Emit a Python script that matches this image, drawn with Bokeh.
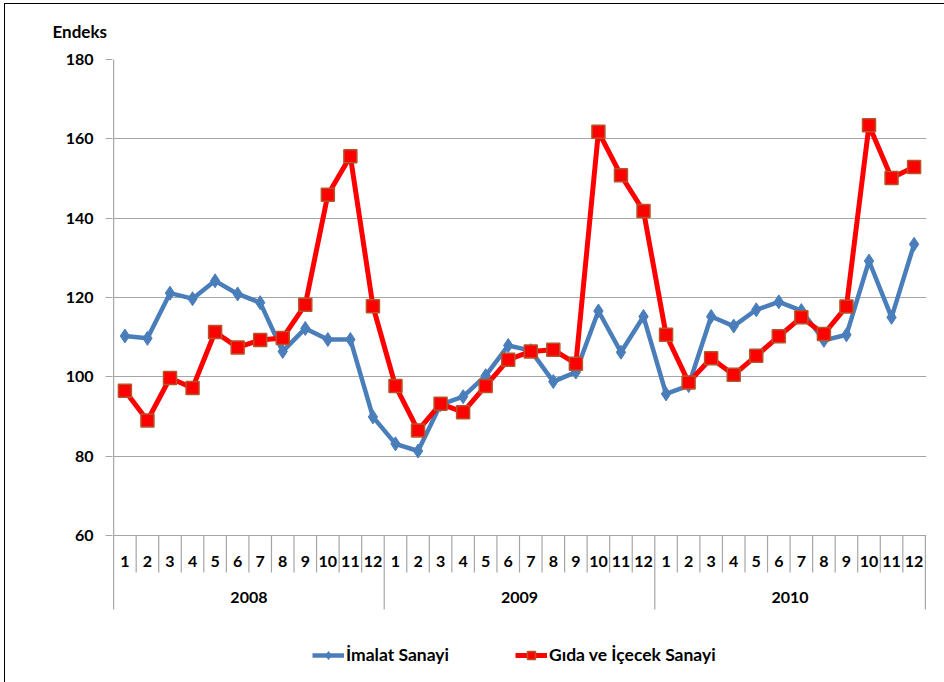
import numpy as np
from bokeh.plotting import figure
from bokeh.models import (Range1d, FixedTicker, Legend, LegendItem, InlineStyleSheet)
from bokeh.embed import file_html
from bokeh.resources import INLINE
from bokeh.core.properties import value

years = ["2008", "2009", "2010"]
months = [str(m) for m in range(1, 13)]
imalat = [110.3, 109.7, 121.1, 119.7, 124.2, 120.9, 118.7, 106.4, 112.2, 109.4, 109.4, 89.9,
          83.1, 81.3, 93.0, 95.0, 100.3, 107.9, 106.6, 98.8, 101.2, 116.6, 106.2, 115.2,
          95.7, 97.8, 115.2, 112.8, 116.9, 118.9, 116.7, 109.2, 110.6, 129.2, 115.0, 133.4]
gida = [96.5, 89.0, 99.7, 97.2, 111.3, 107.4, 109.3, 109.8, 118.2, 145.9, 155.6, 117.8,
        97.7, 86.5, 93.2, 91.1, 97.7, 104.3, 106.4, 106.8, 103.3, 161.8, 150.8, 141.8,
        110.6, 98.6, 104.7, 100.5, 105.3, 110.2, 115.0, 110.8, 117.7, 163.4, 150.1, 152.9]
y_ticks = [60, 80, 100, 120, 140, 160, 180]
series_names = ["İmalat Sanayi", "Gıda ve İçecek Sanayi"]
y_title = "Endeks"

FONT = value("Lato")
FS = "16px"
W, H = 944, 682
top, bottom_b = 59, 4
ppu = 476 / 120.0
ystart = 180 - (H - top - bottom_b) / ppu

n = len(imalat)
x = np.arange(n) + 0.5

frame_css = InlineStyleSheet(css="""
:host { position: relative; }
:host::after { content: ''; position: absolute; left: 4px; top: 3px; width: 940px; height: 679px;
  border-left: 1.5px solid #000; border-top: 1.5px solid #000; pointer-events: none; box-sizing: border-box; }
""")

p = figure(width=W, height=H, output_backend="svg", toolbar_location=None,
           x_range=Range1d(-0.05, n + 0.05), y_range=Range1d(ystart, 180),
           x_axis_location=None, min_border_left=112, min_border_right=18,
           min_border_top=top, min_border_bottom=bottom_b,
           stylesheets=[frame_css])
p.outline_line_color = None
p.xgrid.visible = False
p.ygrid.ticker = FixedTicker(ticks=y_ticks)
p.ygrid.grid_line_color = "#a6a6a6"
p.ygrid.grid_line_width = 1.2

p.title.text = y_title
p.title.align = "left"
p.title.offset = -60
p.title.standoff = 36
p.title.text_font = "Lato"
p.title.text_font_style = "bold"
p.title.text_font_size = "17px"
p.title.text_color = "black"

yax = p.yaxis[0]
yax.ticker = FixedTicker(ticks=y_ticks)
yax.axis_line_color = None
yax.major_tick_line_color = "#a6a6a6"
yax.major_tick_out = 7
yax.major_tick_in = 0
yax.minor_tick_line_color = None
yax.major_label_text_font = "Lato"
yax.major_label_text_font_style = "bold"
yax.major_label_text_font_size = FS
yax.major_label_text_color = "black"
yax.major_label_standoff = 12

# category axis lines
sep_color = "#a6a6a6"
month_bottom = 60 - 37 / ppu
year_bottom = 60 - 74 / ppu
xs0, ys0, xs1, ys1 = [0], [year_bottom], [0], [180]
for i in range(1, n + 1):
    xs0.append(i); xs1.append(i); ys1.append(60)
    ys0.append(year_bottom if i % 12 == 0 else month_bottom)
p.segment(x0=xs0, y0=ys0, x1=xs1, y1=ys1, line_color=sep_color, line_width=1.2)

month_labels = [months[i % 12] for i in range(n)]
p.text(x=list(x), y=[60 - 25.7 / ppu] * n, text=month_labels, text_font=FONT,
       text_font_style="bold", text_font_size=FS, text_align="center",
       text_baseline="middle", text_color="black")
p.text(x=[6, 18, 30], y=[60 - 62 / ppu] * 3, text=years, text_font=FONT,
       text_font_style="bold", text_font_size=FS, text_align="center",
       text_baseline="middle", text_color="black")

blue = "#4a7ebb"
red = "#ff0000"
l1 = p.line(x, imalat, line_color=blue, line_width=4.5)
s1 = p.scatter(x, imalat, marker="diamond", size=14, fill_color=blue, line_color=blue)
l2 = p.line(x, gida, line_color=red, line_width=5)
s2 = p.scatter(x, gida, marker="square", size=13, fill_color=red, line_color="#b5552a", line_width=1.5)

legend = Legend(items=[LegendItem(label=series_names[0], renderers=[l1, s1]),
                       LegendItem(label=series_names[1], renderers=[l2, s2])],
                orientation="horizontal", location=(200, 13),
                glyph_width=32, glyph_height=20, label_standoff=2, spacing=66,
                padding=0, margin=0, border_line_color=None, background_fill_alpha=0,
                label_text_font="Lato", label_text_font_style="bold",
                label_text_font_size="17.5px", label_text_color="black")
p.add_layout(legend, "center")

open("out.html", "w").write(file_html(p, INLINE))
